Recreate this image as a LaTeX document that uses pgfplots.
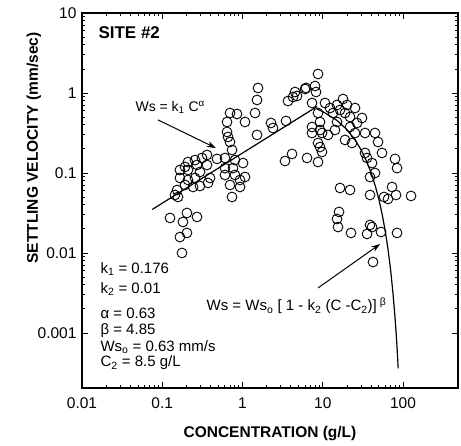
\documentclass[border=0pt]{standalone}
\usepackage{fontspec}
\setmainfont{Liberation Sans}
\usepackage{pgfplots}
\pgfplotsset{compat=1.18}
\usetikzlibrary{arrows.meta}
\begin{document}
\begin{tikzpicture}
\path[use as bounding box] (-82pt,-58pt) rectangle (379pt,388pt);
\begin{axis}[
  at={(0pt,0pt)}, anchor=south west,
  scale only axis, width=376pt, height=375pt,
  xmode=log, ymode=log,
  xmin=0.01, xmax=484, ymin=2.05e-4, ymax=10,
  xtick={0.01,0.1,1,10,100}, xticklabels={0.01,0.1,1,10,100},
  ytick={0.001,0.01,0.1,1,10}, yticklabels={0.001,0.01,0.1,1,10},
  tick align=inside, major tick length=6pt, minor tick length=3.5pt,
  axis line style={line width=1.1pt}, tick style={line width=0.8pt, black},
  ticklabel style={font=\fontsize{15.5}{15.5}\selectfont},
  xticklabel style={yshift=-6pt},
  yticklabel style={xshift=-2pt},
  xlabel={CONCENTRATION (g/L)}, ylabel={SETTLING VELOCITY (mm/sec)},
  label style={font=\bfseries\fontsize{15.5}{15.5}\selectfont},
  xlabel style={at={(axis description cs:0.5,-0.1227)}, anchor=center},
  ylabel style={at={(axis description cs:-0.1277,0.64)}, anchor=center},
  clip mode=individual,
]
\addplot[only marks, mark=o, mark size=4.9pt, mark options={line width=0.9pt, black}] coordinates {
(0.699,0.562) (0.854,0.546) (1.074,0.434) (0.641,0.434) (0.641,0.326) (1.516,0.299)
(0.660,0.282) (0.699,0.244) (0.740,0.194) (0.605,0.154) (0.806,0.145) (1.014,0.133)
(0.481,0.150) (0.361,0.168) (0.313,0.154) (0.256,0.145) (0.209,0.137) (0.192,0.119)
(0.271,0.126) (0.361,0.126) (0.166,0.109) (0.209,0.109) (0.295,0.103) (0.605,0.115)
(0.761,0.115) (1.074,0.0891) (0.605,0.0944) (0.806,0.0944) (0.931,0.0818) (0.699,0.0708)
(0.931,0.0668) (0.166,0.0866) (0.209,0.0818) (0.256,0.0866) (0.394,0.0866) (0.192,0.0708)
(0.242,0.0668) (0.153,0.0613) (0.144,0.0531) (0.157,0.0501) (0.740,0.0501) (0.125,0.0274)
(0.203,0.0316) (0.271,0.0282) (0.181,0.0244) (0.203,0.0178) (0.166,0.0158) (0.176,0.0100)
(0.372,0.0750) (0.295,0.0688)
(1.560,1.155) (1.516,0.818) (1.432,0.562) (3.690,0.794) (4.777,0.917) (2.265,0.422)
(2.399,0.365) (3.484,0.447) (4.511,1.029) (6.009,1.122) (3.385,0.141) (4.139,0.173)
(8.726,1.728) (8.006,1.223) (8.239,1.029) (6.184,1.155) (4.259,0.891) (7.345,0.750)
(10.67,0.750) (15.05,0.708) (17.88,0.841) (25.23,0.649) (8.726,0.562) (13.42,0.562)
(18.94,0.562) (21.86,0.501) (30.84,0.487) (9.241,0.434) (7.345,0.376) (15.05,0.434)
(26.72,0.422) (21.86,0.376) (9.788,0.316) (7.345,0.316) (11.63,0.299) (14.21,0.345)
(25.23,0.316) (33.62,0.316) (44.79,0.316) (48.81,0.244) (18.94,0.259) (23.15,0.237)
(8.726,0.237) (9.241,0.211) (9.788,0.183) (6.363,0.154) (8.726,0.137) (33.62,0.178)
(54.74,0.178) (35.61,0.154) (41.10,0.133) (79.50,0.150) (84.20,0.115) (44.79,0.100)
(38.81,0.0891) (16.41,0.0649) (21.86,0.0613) (38.81,0.0531) (72.96,0.0668) (81.81,0.0531)
(65.04,0.0473) (57.97,0.0501) (125.8,0.0516) (15.94,0.0326) (15.05,0.0266) (15.49,0.0211)
(22.49,0.0178) (35.61,0.0173) (41.10,0.0211) (38.81,0.0224) (53.19,0.0183) (84.20,0.0178)
(42.29,0.0077) (12.31,0.649) (16.41,0.613) (20.06,0.708) (9.241,0.345)
};
\addplot[black, line width=1.2pt] coordinates {(0.075,0.035) (8.5,0.678)};
\addplot[black, line width=1.2pt] coordinates {
(8.5,0.63) (10,0.585) (15,0.455) (20,0.348) (25,0.263) (30,0.195) (35,0.1415)
(40,0.1005) (45,0.0696) (50,0.0468) (55,0.0303) (60,0.01884) (65,0.01112)
(70,0.00615) (75,0.00313) (80,0.00143) (83,0.000833) (85,0.00056) (87,0.00036)
};
\node[anchor=west, font=\bfseries\fontsize{17}{17}\selectfont] at (rel axis cs:0.0346,0.9467) {SITE \#2};
\node[anchor=west, font=\fontsize{14}{14}\selectfont] at (rel axis cs:0.133,0.749) {Ws = k\textsubscript{1} C\textsuperscript{α}};
\node[anchor=west, font=\fontsize{15}{15}\selectfont] at (rel axis cs:0.0399,0.317) {k\textsubscript{1} = 0.176};
\node[anchor=west, font=\fontsize{15}{15}\selectfont] at (rel axis cs:0.0399,0.264) {k\textsubscript{2} = 0.01};
\node[anchor=west, font=\fontsize{15}{15}\selectfont] at (rel axis cs:0.0399,0.200) {α = 0.63};
\node[anchor=west, font=\fontsize{15}{15}\selectfont] at (rel axis cs:0.0399,0.152) {β = 4.85};
\node[anchor=west, font=\fontsize{15}{15}\selectfont] at (rel axis cs:0.0399,0.109) {Ws\textsubscript{o} = 0.63 mm/s};
\node[anchor=west, font=\fontsize{15}{15}\selectfont] at (rel axis cs:0.0399,0.0667) {C\textsubscript{2} = 8.5 g/L};
\node[anchor=west, font=\fontsize{15}{15}\selectfont] at (rel axis cs:0.322,0.2187) {Ws = Ws\textsubscript{o} [ 1 - k\textsubscript{2} (C -C\textsubscript{2})]\textsuperscript{ β}};
\draw[-{Stealth[length=9pt,width=6pt]}, line width=1pt] (rel axis cs:0.202,0.715) -- (rel axis cs:0.356,0.64);
\draw[-{Stealth[length=9pt,width=6pt]}, line width=1pt] (rel axis cs:0.628,0.267) -- (rel axis cs:0.793,0.384);
\end{axis}
\end{tikzpicture}
\end{document}
